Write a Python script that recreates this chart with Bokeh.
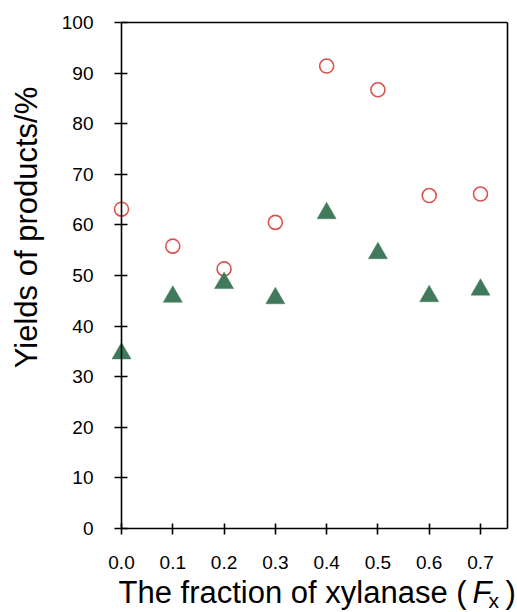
from math import pi

from bokeh.plotting import figure
from bokeh.models import (Range1d, Label, FixedTicker, NumeralTickFormatter,
                          LinearAxis)
from bokeh.embed import file_html
from bokeh.resources import INLINE

# Yields of products (%) against the fraction of xylanase F_x
fx = [0.0, 0.1, 0.2, 0.3, 0.4, 0.5, 0.6, 0.7]
yield_circles = [63.1, 55.8, 51.3, 60.5, 91.4, 86.7, 65.8, 66.1]
yield_triangles = [34.6, 45.8, 48.5, 45.5, 62.3, 54.4, 45.9, 47.2]
x_ticks = [0.0, 0.1, 0.2, 0.3, 0.4, 0.5, 0.6, 0.7]
y_ticks = [0, 10, 20, 30, 40, 50, 60, 70, 80, 90, 100]
x_max = 0.7526

FONT = "Liberation Sans"
W, H = 517, 612
# the plotting box inside the canvas (pixels from the top-left corner)
BOX_L, BOX_T, BOX_B = 121, 22, 528
PX_PER_X = (480 - BOX_L) / 0.7
PX_PER_Y = (BOX_B - BOX_T) / 100.0

X0 = -BOX_L / PX_PER_X
X1 = X0 + W / PX_PER_X
Y1 = 100.0 + BOX_T / PX_PER_Y
Y0 = Y1 - H / PX_PER_Y

p = figure(
    width=W, height=H,
    x_range=Range1d(X0, X1), y_range=Range1d(Y0, Y1),
    output_backend="svg", toolbar_location=None,
    x_axis_location=None, y_axis_location=None,
    min_border=0,
)
p.background_fill_color = "white"
p.border_fill_color = "white"
p.grid.visible = False
p.outline_line_color = None


def style_axis(ax, ticks, tick_out, tick_in, standoff):
    ax.axis_line_color = "black"
    ax.axis_line_width = 1.6
    ax.major_tick_line_color = "black"
    ax.major_tick_line_width = 1.6
    ax.minor_tick_line_color = None
    ax.major_tick_out = tick_out
    ax.major_tick_in = tick_in
    ax.major_label_standoff = standoff
    ax.major_label_text_font = FONT
    ax.major_label_text_font_size = "19px"
    ax.major_label_text_color = "black"
    ax.ticker = FixedTicker(ticks=ticks)


yaxis = LinearAxis(fixed_location=0.0, bounds=(0, 100))
style_axis(yaxis, y_ticks, 7, 6, 21)
p.add_layout(yaxis, "left")

xaxis = LinearAxis(fixed_location=0.0, bounds=(0, x_max),
                   formatter=NumeralTickFormatter(format="0.0"))
style_axis(xaxis, x_ticks, 6, 5, 21)
p.add_layout(xaxis, "below")

# top and right edges of the box: bare axis lines without ticks or labels
top_edge = LinearAxis(fixed_location=100.0, bounds=(0, x_max))
right_edge = LinearAxis(fixed_location=x_max, bounds=(0, 100))
for edge in (top_edge, right_edge):
    style_axis(edge, [], 0, 0, 0)
    edge.major_label_text_font_size = "0px"
p.add_layout(top_edge, "above")
p.add_layout(right_edge, "right")

p.scatter(fx, yield_circles, marker="circle", size=14,
          fill_color=None, line_color="#d9544f", line_width=1.6)
p.scatter(fx, yield_triangles, marker="triangle", size=19,
          fill_color="#417a5b", line_color="#417a5b", line_width=0.5)


def dx(px):
    return X0 + px / PX_PER_X


def dy(py):
    return Y1 - py / PX_PER_Y


def title(text, px, py, size="31px", style="normal", angle=0.0, align="left"):
    p.add_layout(Label(
        x=dx(px), y=dy(py), text=text, angle=angle,
        text_font=FONT, text_font_size=size, text_font_style=style,
        text_color="black", text_align=align, text_baseline="alphabetic",
    ))


title("Yields of products/%", 26, 227, angle=pi / 2, align="center")
title("The fraction of xylanase (", 118, 592)
title("F", 472, 592, style="italic")
title("x", 488, 600, size="21px")
title(")", 505, 592)

open("out.html", "w").write(file_html(p, INLINE))
